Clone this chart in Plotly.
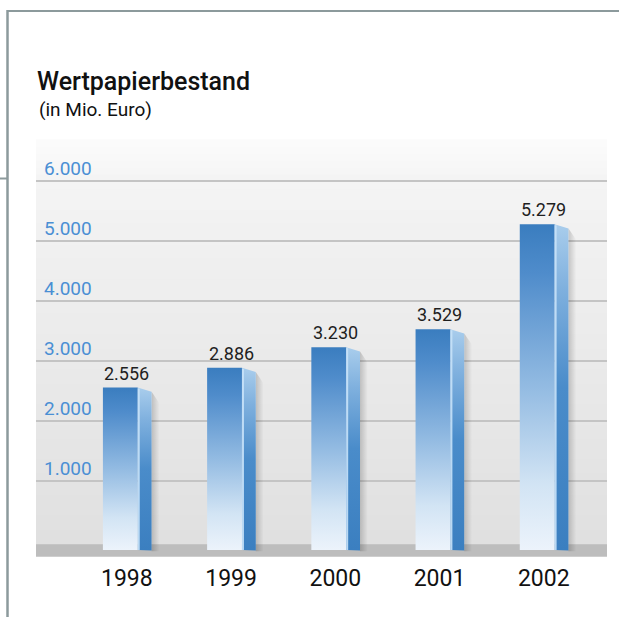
import plotly.graph_objects as go

# ---------------- data ----------------
YEARS = ["1998", "1999", "2000", "2001", "2002"]
VALUES = [2556, 2886, 3230, 3529, 5279]
VALUE_LABELS = ["2.556", "2.886", "3.230", "3.529", "5.279"]
Y_TICKS = [1000, 2000, 3000, 4000, 5000, 6000]
Y_TICK_LABELS = ["1.000", "2.000", "3.000", "4.000", "5.000", "6.000"]
TITLE = "Wertpapierbestand"
SUBTITLE = "(in Mio. Euro)"

# ---------------- layout / style ----------------
W, H = 619, 617
ML, MR, MT, MB = 36, 12, 140, 60
PW, PH = W - ML - MR, H - MT - MB
Y_RANGE = [-267, 6683]
X_RANGE = [-0.872, 4.607]
BASE = -150            # bars are drawn slightly into the floor (perspective)
FRONT_L, FRONT_R, SIDE_R = -0.23, 0.104, 0.237
SIDE_DROP = 70
FONT = "Roboto"


def px_x(px):
    return (px - ML) / PW


def px_y(py):
    return (H - MB - py) / PH


fig = go.Figure()

for i, v in enumerate(VALUES):
    x0, x1, x2 = i + FRONT_L, i + FRONT_R, i + SIDE_R
    # shadow
    fig.add_trace(go.Scatter(
        x=[x2, x2 + 0.075, x2 + 0.075, x2, x2],
        y=[BASE - 20, BASE - 20, v - 260, v - SIDE_DROP, BASE - 20],
        fill="toself", mode="none", hoverinfo="skip", showlegend=False,
        fillgradient=dict(type="horizontal", start=x2, stop=x2 + 0.075,
                          colorscale=[[0, "rgba(0,0,0,0.18)"], [1, "rgba(0,0,0,0)"]])))
    # side face
    fig.add_trace(go.Scatter(
        x=[x1, x2, x2, x1, x1],
        y=[BASE, BASE - 10, v - SIDE_DROP, v, BASE],
        fill="toself", mode="none", hoverinfo="skip", showlegend=False,
        fillgradient=dict(type="vertical", start=BASE, stop=v,
                          colorscale=[[0, "#3b7fc0"], [0.5, "#4a8cca"],
                                      [0.8, "#7fb0de"], [1, "#a9cdec"]])))
    # front face
    fig.add_trace(go.Scatter(
        x=[x0, x1, x1, x0, x0],
        y=[BASE, BASE, v, v, BASE],
        fill="toself", mode="none", hoverinfo="skip", showlegend=False,
        fillgradient=dict(type="vertical", start=BASE, stop=v,
                          colorscale=[[0, "#ecf3fb"], [0.2, "#d2e4f4"],
                                      [0.5, "#93bbe2"], [0.85, "#4f8ccb"],
                                      [1, "#3a7dbf"]])))
    # light edge between faces
    fig.add_trace(go.Scatter(
        x=[x1 + 0.01, x1 + 0.01], y=[BASE, v - 15], mode="lines",
        line=dict(color="rgba(200,226,248,0.9)", width=2),
        hoverinfo="skip", showlegend=False))

# value labels
for i, (v, t) in enumerate(zip(VALUES, VALUE_LABELS)):
    fig.add_annotation(x=i, y=v, text=t, showarrow=False, yanchor="bottom",
                       xanchor="center", yshift=2,
                       font=dict(family=FONT, size=18, color="#1e1e1e"))

# background gradient bands (plot area)
shapes = []
N = 60
top_c, mid_c, bot_c = (252, 252, 252), (244, 244, 244), (223, 223, 223)
split = px_y(180)
for k in range(N):
    y0 = k / N
    y1 = (k + 1) / N
    yc = (y0 + y1) / 2
    if yc > split:
        f = (yc - split) / (1 - split)
        c = [round(mid_c[j] + (top_c[j] - mid_c[j]) * f) for j in range(3)]
    else:
        f = yc / split
        c = [round(bot_c[j] + (mid_c[j] - bot_c[j]) * f) for j in range(3)]
    shapes.append(dict(type="rect", xref="paper", yref="paper", x0=0, x1=1,
                       y0=y0, y1=y1 + 0.002, line=dict(width=0),
                       fillcolor="rgb(%d,%d,%d)" % tuple(c), layer="below"))
# floor band
shapes.append(dict(type="rect", xref="paper", yref="y", x0=0, x1=1,
                   y0=-260, y1=-55, line=dict(width=0),
                   fillcolor="#bdbdbd", layer="between"))
# frame lines
frame = "#8c9a9c"
shapes.append(dict(type="line", xref="paper", yref="paper",
                   x0=px_x(7), x1=px_x(619), y0=px_y(11), y1=px_y(11),
                   line=dict(color=frame, width=2)))
shapes.append(dict(type="line", xref="paper", yref="paper",
                   x0=px_x(7.5), x1=px_x(7.5), y0=px_y(10), y1=px_y(617),
                   line=dict(color=frame, width=2.5)))
shapes.append(dict(type="line", xref="paper", yref="paper",
                   x0=px_x(0), x1=px_x(7.5), y0=px_y(178.5), y1=px_y(178.5),
                   line=dict(color=frame, width=2)))

fig.add_annotation(xref="paper", yref="paper", x=px_x(35), y=px_y(81),
                   text=TITLE, showarrow=False, xanchor="left", yanchor="middle",
                   font=dict(family=FONT, size=25, weight=500, color="#111111"))
fig.add_annotation(xref="paper", yref="paper", x=px_x(37), y=px_y(109),
                   text=SUBTITLE, showarrow=False, xanchor="left", yanchor="middle",
                   font=dict(family=FONT, size=19, color="#111111"))

fig.update_layout(
    width=W, height=H,
    margin=dict(l=ML, r=MR, t=MT, b=MB, pad=0),
    paper_bgcolor="white", plot_bgcolor="rgba(0,0,0,0)",
    shapes=shapes, showlegend=False,
    xaxis=dict(range=X_RANGE, tickvals=list(range(len(YEARS))), ticktext=YEARS,
               showgrid=False, zeroline=False, showline=False, ticks="",
               tickfont=dict(family=FONT, size=23, color="#111111"),
               ticklabelstandoff=5, fixedrange=True),
    yaxis=dict(range=Y_RANGE, tickvals=Y_TICKS, ticktext=Y_TICK_LABELS,
               showgrid=True, gridcolor="#c4c4c4", gridwidth=2,
               zeroline=False, showline=False, ticks="",
               ticklabelposition="inside", ticklabelstandoff=5,
               ticklabelshift=-13,
               tickfont=dict(family=FONT, size=19, color="#4a8fd4"),
               fixedrange=True),
)

fig.write_html("out.html", config={"displayModeBar": False},
               post_script="document.body.style.margin='0';")
